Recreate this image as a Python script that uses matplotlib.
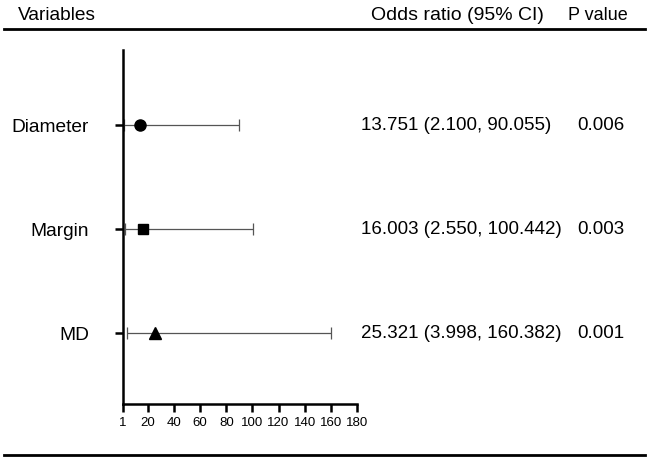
import matplotlib
matplotlib.use('Agg')
import matplotlib.pyplot as plt
import matplotlib.transforms as mtransforms

plt.rcParams['font.family'] = ['Liberation Sans', 'DejaVu Sans']

## Data
variables = ['Diameter', 'Margin', 'MD']
odds = [13.751, 16.003, 25.321]
ci_low = [2.100, 2.550, 3.998]
ci_high = [90.055, 100.442, 160.382]
p_values = ['0.006', '0.003', '0.001']
markers = ['o', 's', '^']
xticks = [1, 20, 40, 60, 80, 100, 120, 140, 160, 180]

W, H = 648, 461
fig = plt.figure(figsize=(W / 100, H / 100), dpi=100)

# axes placed in pixel units: x from 123 to 357, y from 50 to 404 (top down)
ax = fig.add_axes([123 / W, (H - 404) / H, 234 / W, 354 / H])

rows = [3, 2, 1]
for y, o, lo, hi, m in zip(rows, odds, ci_low, ci_high, markers):
    ax.errorbar(o, y, xerr=[[o - lo], [hi - o]], fmt='none', ecolor='#555555',
                elinewidth=0.9, capsize=4, capthick=0.9, zorder=2)
    ax.plot(o, y, marker=m, color='black', markersize=8 if m != 's' else 7.5,
            linestyle='none', zorder=3)

ax.set_xlim(1, 180)
ax.set_ylim(1 - 71 / 104, 3 + 75 / 104)
ax.set_xticks(xticks)
ax.set_xticklabels([str(t) for t in xticks], fontsize=9.5)
ax.set_yticks(rows)
ax.set_yticklabels(variables, fontsize=13.8)
ax.tick_params(axis='x', direction='out', length=6, width=1.8, pad=3)
ax.tick_params(axis='y', direction='out', length=5.5, width=1.8, pad=19)

for side in ['top', 'right']:
    ax.spines[side].set_visible(False)
for side in ['left', 'bottom']:
    ax.spines[side].set_linewidth(1.8)
ax.patch.set_visible(False)

# text columns to the right of the plot
trans = mtransforms.blended_transform_factory(fig.transFigure, ax.transData)
for y, o, lo, hi, p in zip(rows, odds, ci_low, ci_high, p_values):
    ax.text(361 / W, y, '{:.3f} ({:.3f}, {:.3f})'.format(o, lo, hi), transform=trans,
            ha='left', va='center', fontsize=13.5)
    ax.text(577 / W, y, p, transform=trans, ha='left', va='center', fontsize=13.5)

# header and rules
fig.text(18 / W, 1 - 16 / H, 'Variables', ha='left', va='center', fontsize=13.8)
fig.text(371 / W, 1 - 16 / H, 'Odds ratio (95% CI)', ha='left', va='center', fontsize=14)
fig.text(568 / W, 1 - 16 / H, 'P value', ha='left', va='center', fontsize=13)
fig.add_artist(plt.Line2D([4 / W, 645 / W], [1 - 29 / H, 1 - 29 / H], color='black', linewidth=2))
fig.add_artist(plt.Line2D([4 / W, 645 / W], [1 - 455 / H, 1 - 455 / H], color='black', linewidth=2))

fig.savefig('out.png', dpi=100)
